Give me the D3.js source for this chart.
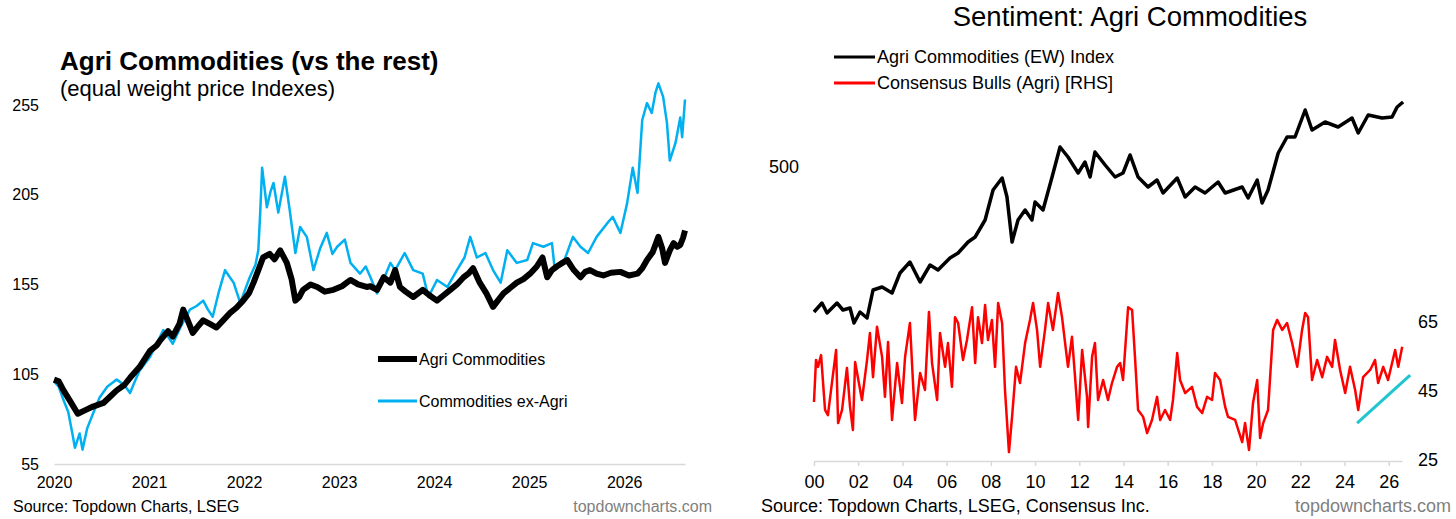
<!DOCTYPE html>
<html>
<head>
<meta charset="utf-8">
<script src="https://cdn.jsdelivr.net/npm/d3@7/dist/d3.min.js"></script>
<style>
  body { margin: 0; background: #fff; }
  text { font-family: "Liberation Sans", Arial, sans-serif; }
</style>
</head>
<body>
<svg id="chart" width="1456" height="519"></svg>
<script>
// ---- left panel: equal weight price indexes, [decimal year, value]
const agriLeft = [[2020.00,102],[2020.05,101],[2020.10,96],[2020.17,90],[2020.25,83],[2020.33,85],[2020.41,87],[2020.52,89],
  [2020.60,93],[2020.66,96],[2020.74,99],[2020.80,103],[2020.90,109],[2021.01,118],[2021.08,121],[2021.12,124],[2021.20,129],
  [2021.25,126],[2021.32,133],[2021.36,141],[2021.40,136],[2021.46,128],[2021.52,132],[2021.57,135],[2021.64,133],[2021.71,131],
  [2021.78,135],[2021.85,139],[2021.92,142],[2021.99,146],[2022.05,150],[2022.10,156],[2022.15,163],[2022.20,170],[2022.27,172],
  [2022.32,169],[2022.38,174],[2022.45,167],[2022.50,158],[2022.54,146],[2022.58,148],[2022.62,152],[2022.70,155],[2022.77,153.6],
  [2022.85,151],[2022.94,152],[2023.03,154],[2023.12,157.5],[2023.20,155],[2023.29,153.6],[2023.33,154],[2023.40,152],[2023.47,159],
  [2023.54,156],[2023.59,163],[2023.64,153.6],[2023.70,151],[2023.78,148],[2023.88,152],[2023.95,149],[2024.03,146],[2024.10,149],
  [2024.17,152],[2024.24,155],[2024.31,159],[2024.36,161],[2024.41,164],[2024.48,156],[2024.55,150],[2024.62,142.5],[2024.67,146],
  [2024.73,150],[2024.80,153],[2024.87,156],[2024.94,158],[2025.01,161],[2025.08,165],[2025.14,170],[2025.19,159],[2025.24,163],
  [2025.29,165],[2025.35,167],[2025.40,168.6],[2025.47,163],[2025.54,159],[2025.59,162],[2025.64,163],[2025.71,161],[2025.78,160],
  [2025.86,161.5],[2025.96,162],[2026.05,160],[2026.14,161],[2026.19,164],[2026.24,168.6],[2026.30,173],[2026.36,181.5],[2026.40,175],
  [2026.43,167],[2026.48,174],[2026.52,178],[2026.56,176],[2026.59,177],[2026.62,181],[2026.64,185]];

const exAgriLeft = [[2020.00,101],[2020.05,98],[2020.10,90.6],[2020.15,84],[2020.20,70],[2020.22,64],[2020.27,72],[2020.30,63],
  [2020.35,75],[2020.41,83],[2020.48,92],[2020.56,98],[2020.66,102],[2020.74,99],[2020.80,94.5],[2020.85,101],[2020.90,107],
  [2021.01,114.6],[2021.08,122],[2021.15,129.6],[2021.20,126],[2021.25,122],[2021.33,131],[2021.43,141],[2021.50,143],[2021.57,146],
  [2021.62,141],[2021.67,137],[2021.73,150],[2021.80,163],[2021.85,159],[2021.89,156],[2021.96,144.7],[2022.01,152],[2022.06,159],
  [2022.12,166],[2022.15,174],[2022.17,195],[2022.19,220],[2022.24,198],[2022.28,207],[2022.31,211.5],[2022.36,195],[2022.43,215],
  [2022.48,196.5],[2022.54,172.5],[2022.59,187],[2022.66,181.5],[2022.73,163],[2022.80,175],[2022.87,183.7],[2022.93,172],[2022.98,176],
  [2023.06,180],[2023.12,167],[2023.22,161],[2023.28,165],[2023.33,159],[2023.40,150],[2023.47,158],[2023.54,167],[2023.59,163],
  [2023.69,172.5],[2023.78,163],[2023.88,161],[2023.94,148],[2024.03,157.5],[2024.14,153.6],[2024.24,163],[2024.32,170],[2024.38,181.5],
  [2024.45,170],[2024.54,172.5],[2024.62,163],[2024.70,156],[2024.77,174],[2024.87,167],[2024.98,168.6],[2025.04,178],[2025.15,176],
  [2025.24,178],[2025.27,163],[2025.36,167],[2025.46,181.5],[2025.54,176],[2025.62,172.5],[2025.71,181.5],[2025.82,189],[2025.88,192.6],
  [2025.96,183.7],[2026.03,200],[2026.09,220],[2026.14,206],[2026.19,246.6],[2026.24,256],[2026.29,250.5],[2026.33,262],[2026.36,267],
  [2026.41,259.5],[2026.45,245],[2026.48,224],[2026.54,233.8],[2026.59,248],[2026.61,237],[2026.64,258]];

const leftYears = [2020, 2021, 2022, 2023, 2024, 2025, 2026];
const leftTicks = [55, 105, 155, 205, 255];

// ---- right panel: sentiment
const agriIndexRight = [[2000.00,210],[2000.36,228],[2000.59,208],[2001.04,228],[2001.31,214],[2001.63,218],[2001.81,188],[2002.08,210],
  [2002.40,198],[2002.67,254],[2003.08,260],[2003.53,248],[2003.89,288],[2004.34,310],[2004.80,270],[2005.25,304],[2005.61,294],
  [2006.15,318],[2006.52,328],[2006.97,350],[2007.29,360],[2007.74,394],[2008.10,454],[2008.51,478],[2008.73,440],[2008.96,350],
  [2009.23,394],[2009.55,414],[2009.86,394],[2010.00,430],[2010.36,414],[2010.77,480],[2011.13,540],[2011.49,520],[2011.95,488],
  [2012.26,510],[2012.49,480],[2012.71,530],[2013.17,504],[2013.62,480],[2013.98,488],[2014.30,524],[2014.66,480],[2015.11,460],
  [2015.52,474],[2015.79,448],[2016.43,478],[2016.79,440],[2017.24,460],[2017.69,448],[2018.28,470],[2018.60,448],[2019.37,460],
  [2019.64,438],[2020.05,474],[2020.27,428],[2020.54,454],[2021.00,528],[2021.40,560],[2021.76,560],[2022.22,614],[2022.53,574],
  [2023.12,590],[2023.71,580],[2024.34,598],[2024.62,568],[2025.07,604],[2025.70,598],[2026.15,600],[2026.38,620],[2026.65,630]];

const bullsRight = [[2000.00,41.8],[2000.09,54],[2000.18,52],[2000.32,55.4],[2000.50,39.5],[2000.63,38],[2000.81,47.3],[2001.00,56.9],
  [2001.09,35.7],[2001.27,39.5],[2001.49,51.7],[2001.63,40.4],[2001.76,33.7],[2001.86,53.4],[2002.17,42.4],[2002.40,54],[2002.53,61.8],
  [2002.67,49],[2002.85,63.6],[2003.08,54.9],[2003.21,43.3],[2003.35,59.2],[2003.53,36.6],[2003.76,53.1],[2003.98,41.5],[2004.12,54.9],
  [2004.34,64.7],[2004.48,47.3],[2004.57,36.6],[2004.80,50.2],[2005.02,45.3],[2005.20,67.9],[2005.34,53.1],[2005.57,42.4],[2005.70,61.8],
  [2005.93,52],[2006.06,58.9],[2006.24,46.2],[2006.38,66.4],[2006.52,64.7],[2006.74,54],[2006.92,59.8],[2007.15,69.3],[2007.29,53.1],
  [2007.42,66.4],[2007.60,58.9],[2007.74,69.9],[2007.87,59.8],[2008.05,65.6],[2008.19,52],[2008.33,70.5],[2008.51,64.7],[2008.64,45.3],
  [2008.82,27.3],[2008.96,37.5],[2009.14,52],[2009.32,47.3],[2009.55,58.9],[2009.77,65.6],[2009.91,70.5],[2010.09,62.7],[2010.23,52],
  [2010.45,62.7],[2010.59,70.5],[2010.81,62.7],[2011.04,73.4],[2011.22,66.4],[2011.36,58.9],[2011.49,52],[2011.67,60.7],[2011.81,49],
  [2011.95,36.6],[2012.13,56.9],[2012.35,43.3],[2012.40,34.6],[2012.58,54.9],[2012.71,58.9],[2012.85,42.4],[2013.08,48.2],[2013.30,42.4],
  [2013.48,47.3],[2013.71,52],[2013.85,53.1],[2013.98,48.2],[2014.21,69.3],[2014.39,68.5],[2014.52,54.9],[2014.66,39.5],[2014.89,37.5],
  [2015.07,32.8],[2015.29,36.6],[2015.52,43.3],[2015.66,36.6],[2015.88,39.5],[2016.11,36.6],[2016.24,42.4],[2016.43,56],[2016.56,48.2],
  [2016.79,44.4],[2017.10,46.2],[2017.33,40.4],[2017.56,38.6],[2017.78,43.3],[2018.01,42.4],[2018.14,50.2],[2018.37,48.2],[2018.60,40.4],
  [2018.73,37.5],[2019.05,36.6],[2019.37,30.2],[2019.50,35.7],[2019.68,27.9],[2019.86,41.5],[2020.05,48.2],[2020.18,31.4],[2020.32,35.7],
  [2020.54,39.5],[2020.77,62.7],[2020.95,65.6],[2021.18,62.7],[2021.40,64.7],[2021.63,58.9],[2021.86,52],[2022.08,62.7],[2022.22,67.6],
  [2022.35,66.4],[2022.53,48.2],[2022.76,54],[2022.99,49],[2023.21,54.9],[2023.44,52],[2023.57,59.8],[2023.80,51.1],[2024.03,44.4],
  [2024.25,52],[2024.48,45.3],[2024.62,39.5],[2024.84,49],[2025.16,51.1],[2025.38,54],[2025.52,47.3],[2025.75,52],[2025.97,48.2],
  [2026.29,56.9],[2026.43,52],[2026.61,57.8]];

const bullsTrend = [[2024.57,35.7],[2026.97,49.6]];

const rightYears = [2000,2002,2004,2006,2008,2010,2012,2014,2016,2018,2020,2022,2024,2026];
const rightLhsTicks = [500];
const rightRhsTicks = [25, 45, 65];

const svg = d3.select("#chart");
const axisGrey = "#d9d9d9";

// ================= LEFT CHART =================
const xL = d3.scaleLinear().domain([2020, 2026.64]).range([54, 685]);
const yL = d3.scaleLinear().domain([55, 280]).range([464, 60]);

svg.append("text").attr("x", 60).attr("y", 70)
  .attr("font-size", 26).attr("font-weight", "bold")
  .text("Agri Commodities (vs the rest)");
svg.append("text").attr("x", 60).attr("y", 96)
  .attr("font-size", 22)
  .text("(equal weight price Indexes)");

const gxL = svg.append("g")
  .attr("transform", "translate(0,464)")
  .call(d3.axisBottom(xL).tickValues(leftYears).tickFormat(d3.format("d")).tickSize(0).tickPadding(13));
gxL.select(".domain").attr("stroke", axisGrey).attr("stroke-width", 1.5);
gxL.selectAll("text").attr("font-size", 16).attr("fill", "#000").style("font-family", "'Liberation Sans', Arial, sans-serif");

const gyL = svg.append("g")
  .attr("transform", "translate(53,0)")
  .call(d3.axisLeft(yL).tickValues(leftTicks).tickSize(0).tickPadding(14));
gyL.select(".domain").remove();
gyL.selectAll("text").attr("font-size", 16).attr("fill", "#000").style("font-family", "'Liberation Sans', Arial, sans-serif");

const lineL = d3.line().x(d => xL(d[0])).y(d => yL(d[1]));

svg.append("path").datum(exAgriLeft)
  .attr("d", lineL).attr("fill", "none")
  .attr("stroke", "#00b0f0").attr("stroke-width", 2.5).attr("stroke-linejoin", "round");
svg.append("path").datum(agriLeft)
  .attr("d", lineL).attr("fill", "none")
  .attr("stroke", "#000").attr("stroke-width", 6).attr("stroke-linejoin", "round");

// legend
const legL = [
  { name: "Agri Commodities", color: "#000", w: 6, y: 359 },
  { name: "Commodities ex-Agri", color: "#00b0f0", w: 3, y: 401 }
];
legL.forEach(d => {
  svg.append("line").attr("x1", 378).attr("x2", 417).attr("y1", d.y).attr("y2", d.y)
    .attr("stroke", d.color).attr("stroke-width", d.w);
  svg.append("text").attr("x", 419).attr("y", d.y).attr("dy", "0.35em")
    .attr("font-size", 16).text(d.name);
});

svg.append("text").attr("x", 13).attr("y", 512).attr("font-size", 16)
  .text("Source: Topdown Charts, LSEG");
svg.append("text").attr("x", 712).attr("y", 512).attr("font-size", 16)
  .attr("text-anchor", "end").attr("fill", "#7f7f7f")
  .text("topdowncharts.com");

// ================= RIGHT CHART =================
const xR = d3.scaleLinear().domain([2000, 2026.6]).range([814, 1402]);
const yR = d3.scaleLinear().domain([-86, 674]).range([460, 80]);   // LHS index
const yR2 = d3.scaleLinear().domain([25, 135]).range([460, 80.5]); // RHS bulls

svg.append("text").attr("x", 1130).attr("y", 26)
  .attr("font-size", 27.5).attr("text-anchor", "middle")
  .text("Sentiment: Agri Commodities");

const legR = [
  { name: "Agri Commodities (EW) Index", color: "#000", y: 57 },
  { name: "Consensus Bulls (Agri) [RHS]", color: "#ff0000", y: 83 }
];
legR.forEach(d => {
  svg.append("line").attr("x1", 834).attr("x2", 875).attr("y1", d.y).attr("y2", d.y)
    .attr("stroke", d.color).attr("stroke-width", 3);
  svg.append("text").attr("x", 877).attr("y", d.y).attr("dy", "0.35em")
    .attr("font-size", 18).text(d.name);
});

const gxR = svg.append("g")
  .attr("transform", "translate(0,461)")
  .call(d3.axisBottom(xR).tickValues(rightYears)
    .tickFormat(d => String(d % 100).padStart(2, "0"))
    .tickSize(5).tickSizeOuter(0).tickPadding(9));
gxR.select(".domain").attr("stroke", axisGrey).attr("stroke-width", 1.5);
gxR.selectAll(".tick line").attr("stroke", axisGrey).attr("stroke-width", 1.5);
gxR.selectAll("text").attr("font-size", 18).attr("fill", "#000").style("font-family", "'Liberation Sans', Arial, sans-serif");

const gyR = svg.append("g")
  .attr("transform", "translate(814,0)")
  .call(d3.axisLeft(yR).tickValues(rightLhsTicks).tickSize(0).tickPadding(15));
gyR.select(".domain").remove();
gyR.selectAll("text").attr("font-size", 18).attr("fill", "#000").style("font-family", "'Liberation Sans', Arial, sans-serif");

const gyR2 = svg.append("g")
  .attr("transform", "translate(1402,0)")
  .call(d3.axisRight(yR2).tickValues(rightRhsTicks).tickSize(0).tickPadding(16));
gyR2.select(".domain").remove();
gyR2.selectAll("text").attr("font-size", 18).attr("fill", "#000").style("font-family", "'Liberation Sans', Arial, sans-serif");

svg.append("path").datum(bullsRight)
  .attr("d", d3.line().x(d => xR(d[0])).y(d => yR2(d[1])))
  .attr("fill", "none").attr("stroke", "#ff0000").attr("stroke-width", 2.5).attr("stroke-linejoin", "round");
svg.append("path").datum(agriIndexRight)
  .attr("d", d3.line().x(d => xR(d[0])).y(d => yR(d[1])))
  .attr("fill", "none").attr("stroke", "#000").attr("stroke-width", 3.5).attr("stroke-linejoin", "round");
svg.append("path").datum(bullsTrend)
  .attr("d", d3.line().x(d => xR(d[0])).y(d => yR2(d[1])))
  .attr("fill", "none").attr("stroke", "#1fc6cf").attr("stroke-width", 3);

svg.append("text").attr("x", 761).attr("y", 512).attr("font-size", 18)
  .text("Source: Topdown Charts, LSEG, Consensus Inc.");
svg.append("text").attr("x", 1451).attr("y", 512).attr("font-size", 18)
  .attr("text-anchor", "end").attr("fill", "#7f7f7f")
  .text("topdowncharts.com");
</script>
</body>
</html>
